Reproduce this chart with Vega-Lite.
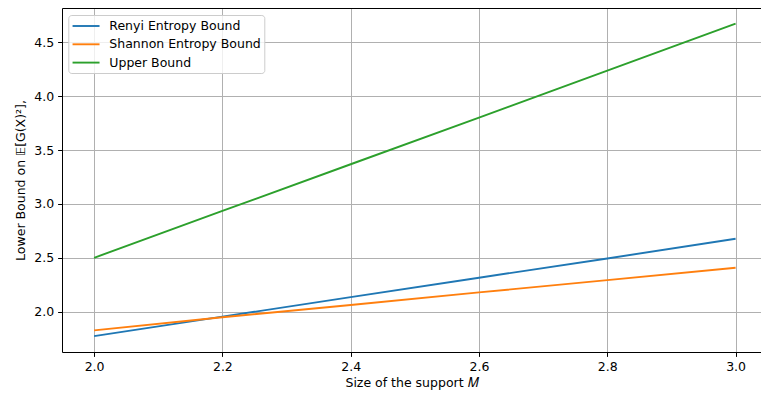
{
  "$schema": "https://vega.github.io/schema/vega-lite/v6.json",
  "autosize": {"type": "none"},
  "padding": {"left": 62, "top": 8, "right": 0, "bottom": 42},
  "width": 699,
  "height": 344,
  "background": "white",
  "config": {
    "view": {"stroke": null},
    "font": "DejaVu Sans",
    "axis": {
      "labelFont": "DejaVu Sans", "titleFont": "DejaVu Sans",
      "labelFontSize": 12.5, "titleFontSize": 12.5, "titleFontWeight": "normal",
      "labelColor": "black", "titleColor": "black",
      "domainColor": "black", "domainWidth": 1, "tickColor": "black", "tickWidth": 1, "tickSize": 4.4,
      "labelPadding": 4, "gridColor": "#b0b0b0", "gridWidth": 1, "gridOpacity": 1
    },
    "legend": {
      "labelFont": "DejaVu Sans", "labelFontSize": 12.5, "labelColor": "black"
    }
  },
  "data": {"values": [
    {"M": 2.0, "series": "Renyi Entropy Bound", "v": 1.773},
    {"M": 2.2, "series": "Renyi Entropy Bound", "v": 1.954},
    {"M": 2.4, "series": "Renyi Entropy Bound", "v": 2.135},
    {"M": 2.6, "series": "Renyi Entropy Bound", "v": 2.315},
    {"M": 2.8, "series": "Renyi Entropy Bound", "v": 2.494},
    {"M": 3.0, "series": "Renyi Entropy Bound", "v": 2.677},
    {"M": 2.0, "series": "Shannon Entropy Bound", "v": 1.827},
    {"M": 2.2, "series": "Shannon Entropy Bound", "v": 1.948},
    {"M": 2.4, "series": "Shannon Entropy Bound", "v": 2.062},
    {"M": 2.6, "series": "Shannon Entropy Bound", "v": 2.179},
    {"M": 2.8, "series": "Shannon Entropy Bound", "v": 2.293},
    {"M": 3.0, "series": "Shannon Entropy Bound", "v": 2.408},
    {"M": 2.0, "series": "Upper Bound", "v": 2.5},
    {"M": 2.2, "series": "Upper Bound", "v": 2.935},
    {"M": 2.4, "series": "Upper Bound", "v": 3.368},
    {"M": 2.6, "series": "Upper Bound", "v": 3.8},
    {"M": 2.8, "series": "Upper Bound", "v": 4.236},
    {"M": 3.0, "series": "Upper Bound", "v": 4.673}
  ]},
  "resolve": {"axis": {"x": "independent", "y": "independent"}},
  "layer": [
    {
      "mark": {"type": "line", "strokeWidth": 1.9, "clip": true},
      "encoding": {
        "x": {"field": "M", "type": "quantitative",
          "scale": {"domain": [1.95, 3.0396], "nice": false, "zero": false},
          "axis": {"orient": "bottom", "values": [2.0, 2.2, 2.4, 2.6, 2.8, 3.0], "format": ".1f", "title": "Size of the support 𝑀", "titlePadding": 4}},
        "y": {"field": "v", "type": "quantitative",
          "scale": {"domain": [1.626, 4.818], "nice": false, "zero": false},
          "axis": {"orient": "left", "values": [2.0, 2.5, 3.0, 3.5, 4.0, 4.5], "format": ".1f", "title": "Lower Bound on 𝔼[G(X)²],", "titlePadding": 6}},
        "color": {"field": "series", "type": "nominal",
          "scale": {"domain": ["Renyi Entropy Bound", "Shannon Entropy Bound", "Upper Bound"], "range": ["#1f77b4", "#ff7f0e", "#2ca02c"]},
          "legend": {"title": null, "orient": "none", "legendX": 6.3, "legendY": 7, "symbolType": "M-1,0H3", "symbolSize": 182, "symbolStrokeWidth": 1.9, "symbolFillColor": "transparent", "labelOffset": 22, "rowPadding": 3.3, "padding": 3, "fillColor": "rgba(255,255,255,0.8)", "strokeColor": "#cccccc", "cornerRadius": 3}}
      }
    },
    {
      "mark": {"type": "line", "opacity": 0},
      "encoding": {
        "x": {"field": "M", "type": "quantitative",
          "axis": {"orient": "top", "labels": false, "ticks": false, "grid": false, "domain": true, "title": null}},
        "y": {"field": "v", "type": "quantitative",
          "axis": {"orient": "right", "labels": false, "ticks": false, "grid": false, "domain": false, "title": null}},
        "detail": {"field": "series"}
      }
    }
  ]
}
